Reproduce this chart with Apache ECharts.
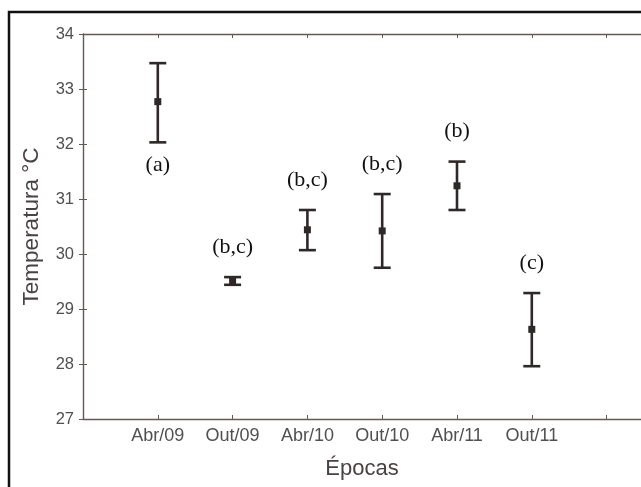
<!DOCTYPE html>
<html><head><meta charset="utf-8">
<script src="https://cdn.jsdelivr.net/npm/echarts@6/dist/echarts.min.js"></script>
<style>html,body{margin:0;padding:0;background:#fff}#c{width:641px;height:487px}</style>
</head><body><div id="c"></div>
<script>
const categories = ['Abr/09','Out/09','Abr/10','Out/10','Abr/11','Out/11'];
const means = [32.77, 29.51, 30.44, 30.42, 31.24, 28.63];
const lows  = [32.03, 29.44, 30.07, 29.75, 30.80, 27.96];
const highs = [33.47, 29.58, 30.80, 31.09, 31.68, 29.29];
const letters = ['(a)','(b,c)','(b,c)','(b,c)','(b)','(c)'];
const yTicks = [27, 28, 29, 30, 31, 32, 33, 34];

const data = categories.map((c, i) => [i + 1, means[i], lows[i], highs[i], letters[i]]);
const axisColor = '#655752';
const barColor = '#2f2828';
const xMax = 7.46;
const sans = 'Liberation Sans';

const chart = echarts.init(document.getElementById('c'), null, {renderer: 'canvas'});
chart.setOption({
  animation: false,
  graphic: [{type: 'rect', shape: {x: 9, y: 12, width: 700, height: 600}, style: {fill: 'none', stroke: '#111', lineWidth: 2.5}, z: 100}],
  grid: {left: 83, top: 34, right: 0, height: 385},
  xAxis: [{
    type: 'value', min: 0, max: xMax, interval: 1, position: 'bottom',
    axisLine: {lineStyle: {color: axisColor, width: 1.4}},
    axisTick: {inside: true, length: 4, lineStyle: {color: axisColor}},
    splitLine: {show: false},
    axisLabel: {color: '#505050', fontFamily: sans, fontSize: 18, margin: 8,
      showMaxLabel: false,
      formatter: v => (Number.isInteger(v) && v >= 1 && v <= categories.length) ? categories[v - 1] : ''},
    name: 'Épocas', nameLocation: 'middle', nameGap: 39,
    nameTextStyle: {color: '#4a4242', fontFamily: sans, fontSize: 22}
  }, {
    type: 'value', min: 0, max: xMax, interval: 1, position: 'top',
    axisLine: {lineStyle: {color: axisColor, width: 1.4}},
    axisTick: {inside: true, length: 4, lineStyle: {color: axisColor}},
    axisLabel: {show: false}, splitLine: {show: false}
  }],
  yAxis: [{
    type: 'value', min: yTicks[0], max: yTicks[yTicks.length - 1], interval: 1,
    axisLine: {show: true, lineStyle: {color: axisColor, width: 1.4}},
    axisTick: {show: true, inside: true, length: 4, lineStyle: {color: axisColor}},
    splitLine: {show: false},
    axisLabel: {color: '#505050', fontFamily: sans, fontSize: 16.5, margin: 9},
    name: 'Temperatura °C', nameLocation: 'middle', nameGap: 40, nameRotate: 90,
    nameTextStyle: {color: '#4a4242', fontFamily: sans, fontSize: 22.5}
  }, {
    type: 'value', min: yTicks[0], max: yTicks[yTicks.length - 1], interval: 1, position: 'right',
    axisLine: {show: false},
    axisTick: {show: true, inside: true, length: 4, lineStyle: {color: axisColor}},
    axisLabel: {show: false}, splitLine: {show: false}
  }],
  series: [{
    type: 'custom',
    data: data,
    renderItem: function (params, api) {
      const x = api.value(0);
      const pm = api.coord([x, api.value(1)]);
      const pl = api.coord([x, api.value(2)]);
      const ph = api.coord([x, api.value(3)]);
      const hw = 8.5;
      const st = {stroke: barColor, lineWidth: 2.6, fill: 'none'};
      const below = params.dataIndex === 0;
      return {
        type: 'group',
        children: [
          {type: 'line', shape: {x1: ph[0], y1: ph[1], x2: pl[0], y2: pl[1]}, style: st},
          {type: 'line', shape: {x1: ph[0] - hw, y1: ph[1], x2: ph[0] + hw, y2: ph[1]}, style: st},
          {type: 'line', shape: {x1: pl[0] - hw, y1: pl[1], x2: pl[0] + hw, y2: pl[1]}, style: st},
          {type: 'rect', shape: {x: pm[0] - 3.5, y: pm[1] - 3.5, width: 7, height: 7}, style: {fill: barColor}},
          {type: 'text', style: {
            text: api.value(4), x: pm[0], y: below ? pl[1] + 23 : ph[1] - 30,
            align: 'center', verticalAlign: 'middle',
            fontFamily: 'Liberation Serif', fontSize: 22, fill: '#111'}}
        ]
      };
    }
  }]
});
</script></body></html>
